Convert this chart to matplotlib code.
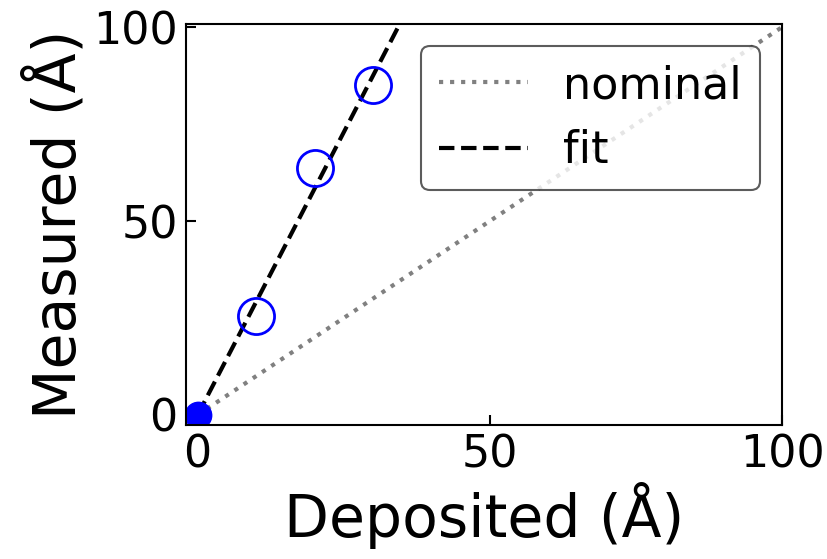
import numpy as np
import matplotlib
matplotlib.use("Agg")
import matplotlib.pyplot as plt

# measured thickness vs deposited thickness
deposited = np.array([10, 20, 30])
measured = np.array([25.4, 63.6, 85.2])
origin_x = [0]
origin_y = [0]

nominal_x = np.array([0, 100])
fit_x = np.array([0, 40])

# least squares fit through the origin
slope = np.sum(deposited * measured) / np.sum(deposited ** 2)

fig = plt.figure(figsize=(8.27, 5.59), dpi=100)
ax = fig.add_axes([0.2249, 0.2397, 0.9456 - 0.2249, 0.957 - 0.2397])

ax.plot(nominal_x, nominal_x, ':', color='gray', lw=3, label='nominal')
ax.plot(fit_x, slope * fit_x, '--', color='black', lw=3, label='fit')
ax.plot(deposited, measured, 'o', mfc='none', mec='blue', ms=26, mew=2)
ax.plot(origin_x, origin_y, 'o', color='blue', ms=19)

ax.set_xlim(-2, 100)
ax.set_ylim(-2.6, 100.8)
ax.set_xticks([0, 50, 100])
ax.set_yticks([0, 50, 100])
ax.tick_params(direction='in', length=7, width=1.5, labelsize=32, pad=6)
for s in ax.spines.values():
    s.set_linewidth(1.5)

ax.set_xlabel('Deposited (Å)', fontsize=42)
ax.set_ylabel('Measured (Å)', fontsize=42)

leg = ax.legend(loc='upper right', fontsize=32, fancybox=True)
leg.get_frame().set_edgecolor('#333333')
leg.get_frame().set_linewidth(1.5)

fig.savefig('out.png', dpi=100)
